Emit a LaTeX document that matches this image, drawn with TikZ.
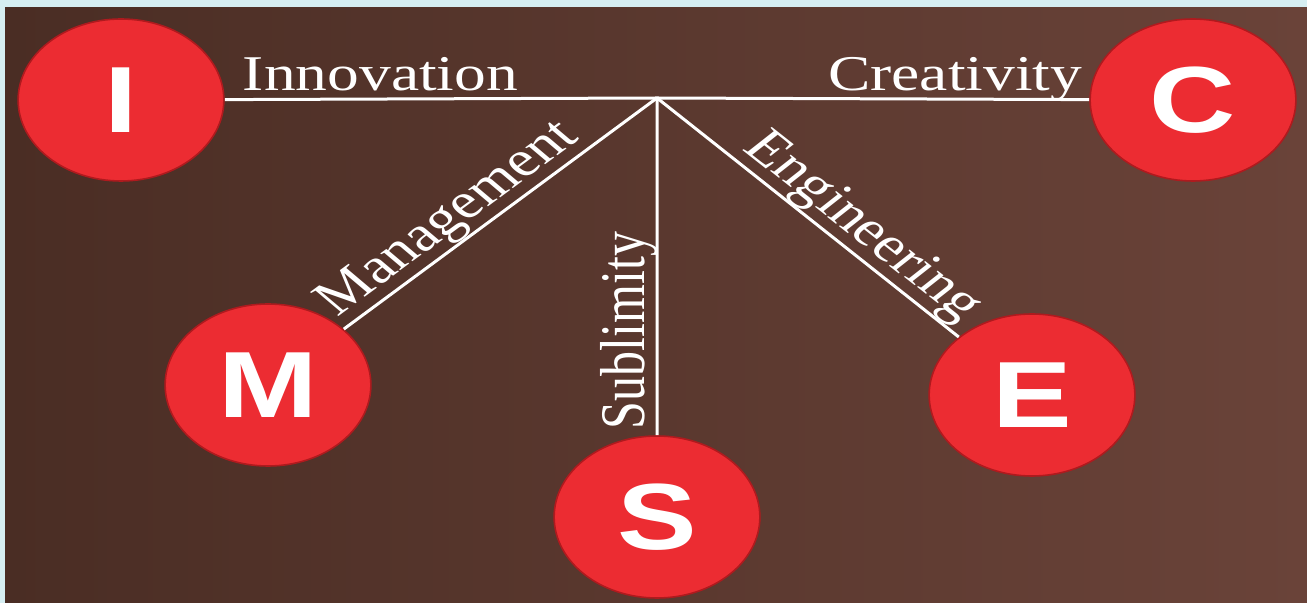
\documentclass[tikz,border=0pt]{standalone}
\usepackage{fontspec}
\setmainfont{Liberation Serif}
\newfontfamily\letterfont{Liberation Sans}

\definecolor{framecyan}{RGB}{214,238,242}
\definecolor{bgleft}{RGB}{74,45,36}
\definecolor{bgright}{RGB}{106,67,57}
\definecolor{ballred}{RGB}{236,44,50}
\definecolor{ballrim}{RGB}{175,26,30}

\tikzset{
  stretch/.style={xscale=1.27},
  ball/.style={stretch, circle, fill=ballred, draw=ballrim, line width=0.8pt,
    minimum size=81pt, inner sep=0pt, text=white,
    font=\letterfont\bfseries\fontsize{47pt}{50pt}\selectfont},
  word/.style={stretch, text=white, inner sep=1pt, text depth=0pt,
    font=\fontsize{25pt}{30pt}\selectfont},
  link/.style={white, line width=1.5pt}
}

\begin{document}
\begin{tikzpicture}[x=0.5pt, y=-0.5pt]
\useasboundingbox (0,0) rectangle (1307,603);
\fill[framecyan] (0,0) rectangle (1307,603);
\shade[left color=bgleft, right color=bgright] (5,8) rectangle (1307,603);

% the five letters
\node[ball] (I) at (121,100) {I};
\node[ball] (C) at (1193,100) {C};
\node[ball] (M) at (268,385) {M};
\node[ball] (S) at (657,517) {S};
\node[ball] (E) at (1032,395) {E};

\coordinate (hub) at (657,98);

% spokes with their words
\draw[link] (hub) -- (I) node[word, pos=0.64, above=2.5pt] (innov) {Innovation};
\draw[link] (hub) -- (C) node[word, pos=0.69, above=2.5pt] (creat) {Creativity};
\draw[link] (hub) -- (M) node[word, rotate=43, pos=0.6, above=4pt] (manage) {Management};
\draw[link] (hub) -- (S) node[word, rotate=90, pos=0.69, above=3pt] (sublim) {Sublimity};
\draw[link] (hub) -- (E) node[word, rotate=-45, pos=0.61, above=4pt] (engin) {Engineering};
\end{tikzpicture}
\end{document}
